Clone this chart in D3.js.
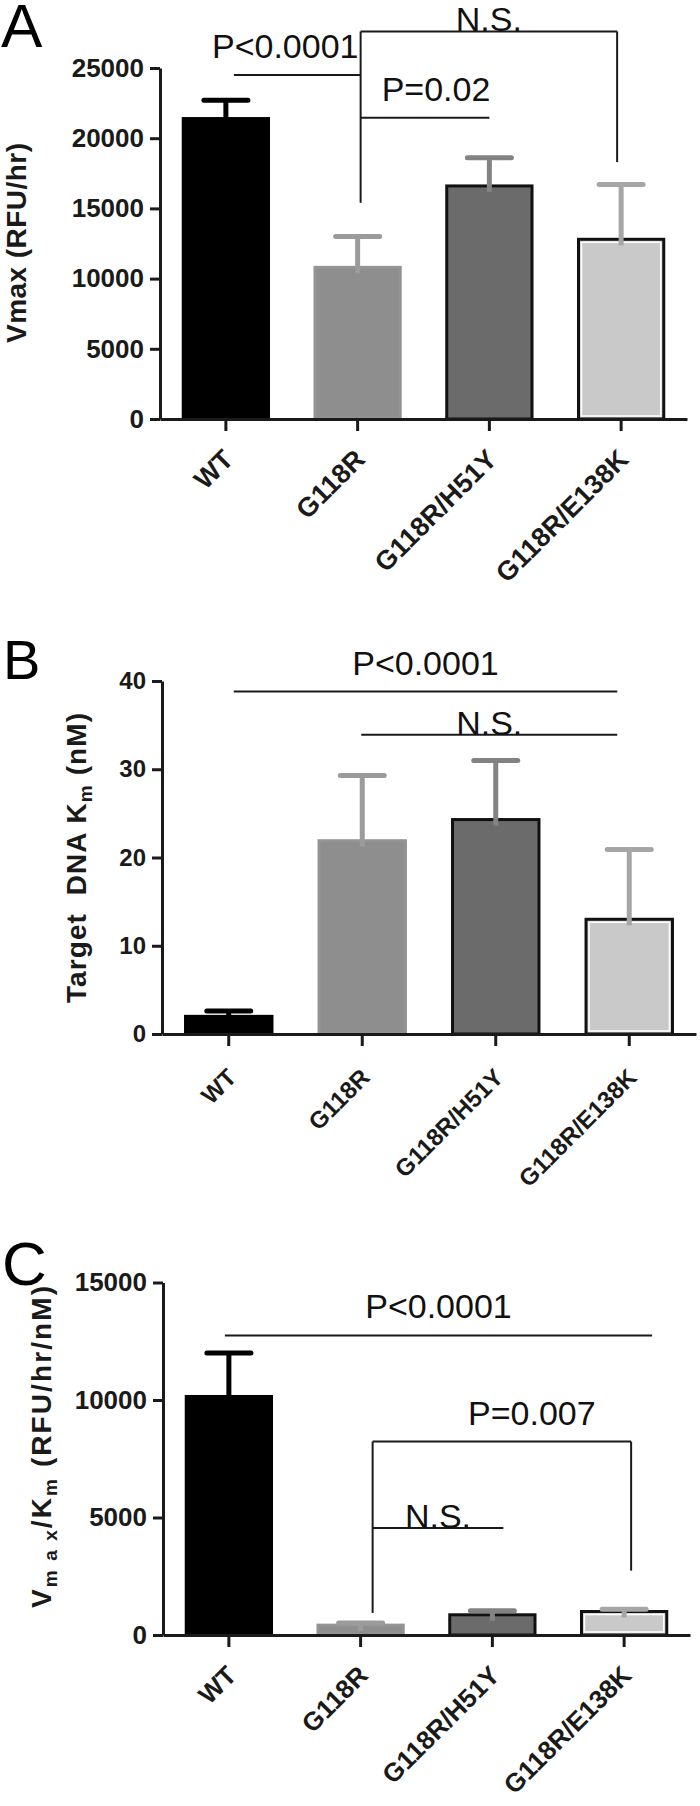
<!DOCTYPE html>
<html>
<head>
<meta charset="utf-8">
<script src="https://cdn.jsdelivr.net/npm/d3@7"></script>
<style>
body { margin: 0; background: #fff; }
svg { display: block; }
text { font-family: "Liberation Sans", Arial, sans-serif; }
</style>
</head>
<body>
<svg id="fig" width="700" height="1806"></svg>
<script>
// data
var categories = ["WT", "G118R", "G118R/H51Y", "G118R/E138K"];

var vmaxMean = [21400, 10800, 16600, 12800];
var vmaxSd = [1300, 2200, 2000, 3900];
var vmaxTicks = [0, 5000, 10000, 15000, 20000, 25000];

var kmMean = [2.0, 21.9, 24.3, 13.0];
var kmSd = [0.6, 7.4, 6.7, 7.9];
var kmTicks = [0, 10, 20, 30, 40];

var effMean = [10150, 420, 860, 1000];
var effSd = [1850, 90, 170, 100];
var effTicks = [0, 5000, 10000, 15000];

// significance brackets: categories joined, height of the bar line, optional legs
var vmaxSig = [
	{ label: "P<0.0001", from: 0, to: 1, y: 24500 },
	{ label: "P=0.02", from: 1, to: 2, y: 21450 },
	{ label: "N.S.", from: 1, to: 3, y: 27600, leftLeg: 15400, rightLeg: 18300 }
];
var kmSig = [
	{ label: "P<0.0001", from: 0, to: 3, y: 38.8 },
	{ label: "N.S.", from: 1, to: 3, y: 33.9 }
];
var effSig = [
	{ label: "P<0.0001", from: 0, to: 3, y: 12750 },
	{ label: "P=0.007", from: 1, to: 3, y: 8230, leftLeg: 940, rightLeg: 2740 },
	{ label: "N.S.", from: 1, to: 2, y: 4550 }
];

var barStyle = [
	{ fill: "#000", stroke: "#000", err: "#000" },
	{ fill: "#8e8e8e", stroke: "#949494", err: "#9b9b9b" },
	{ fill: "#6b6b6b", stroke: "#111", err: "#838383" },
	{ fill: "#c9c9c9", stroke: "#111", err: "#a6a6a6", inner: "#fff" }
];

var svg = d3.select("#fig");
var ink = "#1a1a1a";

function drawPanel(p) {
	var g = svg.append("g");
	var x = d3.scaleBand().domain(categories).range(p.xRange)
	    .paddingInner(0.33).paddingOuter(0.165);
	var y = d3.scaleLinear().domain(p.domain).range(p.yRange);
	var bw = x.bandwidth();
	var cx = function (i) { return x(categories[i]) + bw / 2; };

	// bars
	var bars = g.selectAll("g.bar")
	    .data(categories.map(function (c, i) { return { c: c, i: i, m: p.mean[i], sd: p.sd[i] }; }))
	  .enter().append("g").classed("bar", true);

	bars.append("rect")
	    .attr("x", function (d) { return x(d.c) + 1.5; })
	    .attr("width", bw - 3)
	    .attr("y", function (d) { return y(d.m); })
	    .attr("height", function (d) { return y(0) - y(d.m); })
	    .style("fill", function (d) { return barStyle[d.i].fill; })
	    .style("stroke", function (d) { return barStyle[d.i].stroke; })
	    .style("stroke-width", 3);

	bars.filter(function (d) { return barStyle[d.i].inner; })
	  .append("rect")
	    .attr("x", function (d) { return x(d.c) + 4.5; })
	    .attr("width", bw - 9)
	    .attr("y", function (d) { return y(d.m) + 3; })
	    .attr("height", function (d) { return Math.max(0, y(0) - y(d.m) - 6); })
	    .style("fill", "none")
	    .style("stroke", function (d) { return barStyle[d.i].inner; })
	    .style("stroke-width", 1.5);

	// error bars (upper only), the stem dips a little into the bar
	bars.append("line")
	    .attr("x1", function (d) { return cx(d.i); })
	    .attr("x2", function (d) { return cx(d.i); })
	    .attr("y1", function (d) { return Math.min(y(d.m) + 6, y(0) - 2); })
	    .attr("y2", function (d) { return y(d.m + d.sd); })
	    .style("stroke", function (d) { return barStyle[d.i].err; })
	    .style("stroke-width", 5);
	bars.append("line")
	    .attr("x1", function (d) { return cx(d.i) - 22; })
	    .attr("x2", function (d) { return cx(d.i) + 22; })
	    .attr("y1", function (d) { return y(d.m + d.sd); })
	    .attr("y2", function (d) { return y(d.m + d.sd); })
	    .style("stroke", function (d) { return barStyle[d.i].err; })
	    .style("stroke-width", 5)
	    .style("stroke-linecap", "round");

	// axes
	var yAxis = g.append("g")
	    .attr("transform", "translate(" + p.xRange[0] + ",0)")
	    .call(d3.axisLeft(y).tickValues(p.ticks).tickSize(10).tickSizeOuter(0).tickPadding(6).tickFormat(d3.format("d")));
	var xAxis = g.append("g")
	    .attr("transform", "translate(0," + y(0) + ")")
	    .call(d3.axisBottom(x).tickSize(12).tickSizeOuter(0));

	[yAxis, xAxis].forEach(function (a) {
		a.select(".domain").style("stroke", ink).style("stroke-width", 3);
		a.selectAll(".tick line").style("stroke", ink).style("stroke-width", 3);
		a.selectAll("text").style("font-weight", "bold").style("fill", ink);
	});
	yAxis.selectAll("text").style("font-size", p.tickSize + "px");
	xAxis.selectAll(".tick text")
	    .attr("y", 0).attr("dy", 0).attr("x", 0)
	    .attr("transform", "translate(9," + p.labelDrop + ") rotate(-45)")
	    .style("font-size", p.labelSize + "px")
	    .style("text-anchor", "end");

	// y title
	var title = g.append("text")
	    .attr("transform", "translate(" + p.titleX + "," + p.titleY + ") rotate(-90)")
	    .style("text-anchor", "middle")
	    .style("font-size", "28px")
	    .style("font-weight", "bold")
	    .style("white-space", "pre")
	    .style("fill", ink);
	if (p.titleLength) title.attr("textLength", p.titleLength).attr("lengthAdjust", "spacing");
	p.title.forEach(function (part) {
		var t = title.append("tspan").text(part.t);
		if (part.sub) t.style("font-size", "19px").attr("dy", 6);
		else if (part.back) t.attr("dy", -6);
	});

	// panel letter
	g.append("text")
	    .attr("x", p.letterX).attr("y", p.letterY)
	    .style("font-size", p.letterSize + "px")
	    .style("fill", "#000")
	    .text(p.letter);

	// significance brackets
	p.sig.forEach(function (s, k) {
		var n = p.nudge[k] || {};
		var x1 = cx(s.from) + (n.x1 || 0);
		var x2 = cx(s.to) + (n.x2 || 0);
		var yy = y(s.y);
		var sg = g.append("g").style("stroke", ink).style("stroke-width", 2);
		sg.append("line").attr("x1", x1).attr("x2", x2).attr("y1", yy).attr("y2", yy);
		if (s.leftLeg != null) sg.append("line").attr("x1", x1).attr("x2", x1).attr("y1", yy).attr("y2", y(s.leftLeg));
		if (s.rightLeg != null) sg.append("line").attr("x1", x2).attr("x2", x2).attr("y1", yy).attr("y2", y(s.rightLeg));
		g.append("text")
		    .attr("x", (x1 + x2) / 2 + (n.dx || 0))
		    .attr("y", yy - (s.label === "N.S." ? 0 : 17))
		    .style("text-anchor", "middle")
		    .style("font-size", "34px")
		    .style("fill", "#111")
		    .text(s.label);
	});
}

drawPanel({
	letter: "A", letterX: 1, letterY: 47, letterSize: 62,
	xRange: [160, 687], yRange: [419, 68], domain: [0, 25000],
	mean: vmaxMean, sd: vmaxSd, ticks: vmaxTicks, sig: vmaxSig,
	tickSize: 26, labelSize: 27, labelDrop: 42,
	nudge: [{ x1: 8, x2: 3, dx: -12 }, { x1: 3, dx: 11 }, { x1: 3, x2: -4 }],
	title: [{ t: "Vmax (RFU/hr)" }], titleX: 26, titleY: 243, titleLength: 200
});

drawPanel({
	letter: "B", letterX: 3, letterY: 679, letterSize: 56,
	xRange: [162, 696], yRange: [1034, 681], domain: [0, 40],
	mean: kmMean, sd: kmSd, ticks: kmTicks, sig: kmSig,
	tickSize: 24, labelSize: 24, labelDrop: 45,
	nudge: [{ x1: 5, x2: -12 }, { x1: -1, x2: -12 }],
	title: [{ t: "Target  DNA K" }, { t: "m", sub: true }, { t: " (nM)", back: true }],
	titleX: 86, titleY: 858, titleLength: 290
});

drawPanel({
	letter: "C", letterX: 2, letterY: 1285, letterSize: 62,
	xRange: [163, 690], yRange: [1635, 1282.5], domain: [0, 15000],
	mean: effMean, sd: effSd, ticks: effTicks, sig: effSig,
	tickSize: 26, labelSize: 26, labelDrop: 42,
	nudge: [{ x1: -4, x2: 28 }, { x1: 12, x2: 7, dx: 30 }, { x1: 12, x2: 11 }],
	title: [{ t: "V" }, { t: "m a x", sub: true }, { t: "/K", back: true }, { t: "m", sub: true }, { t: " (RFU/hr/nM)", back: true }],
	titleX: 51, titleY: 1447, titleLength: 322
});
</script>
</body>
</html>
